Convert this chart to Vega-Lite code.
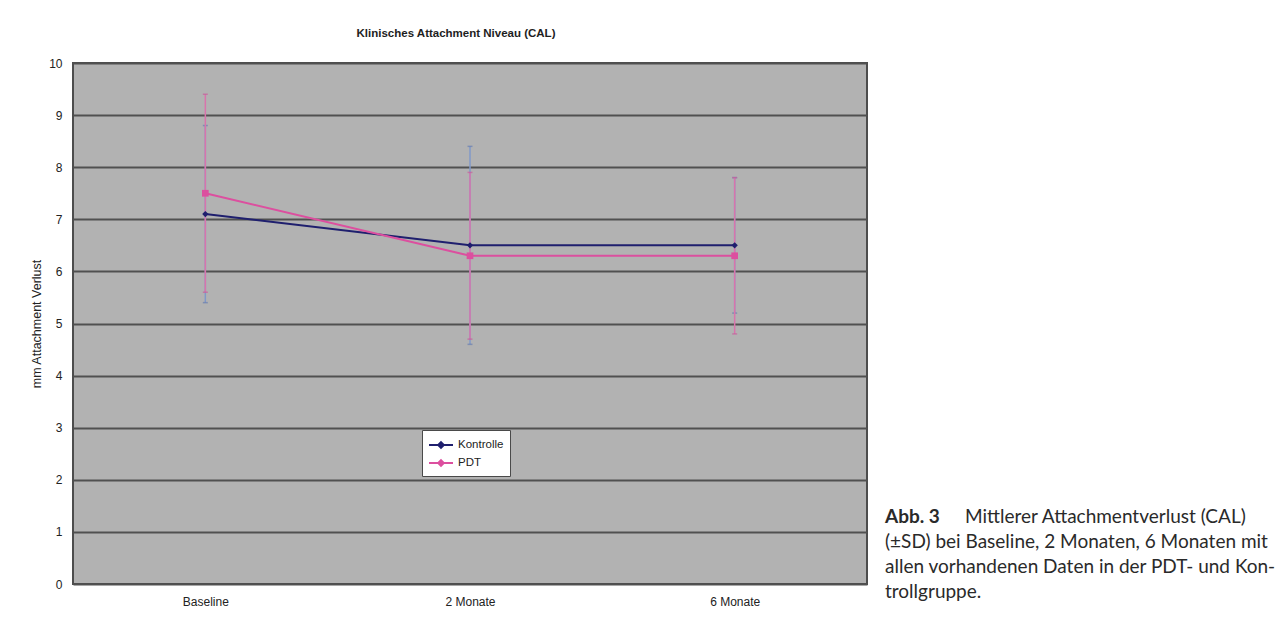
{
  "$schema": "https://vega.github.io/schema/vega-lite/v6.json",
  "background": "white",
  "padding": {"left": 29, "top": 26, "right": 0, "bottom": 0},
  "config": {
    "font": "Liberation Sans",
    "view": {"stroke": null},
    "concat": {"spacing": 17},
    "axisX": {"labelFont": "Liberation Sans", "labelFontSize": 12, "labelColor": "#222", "labelAngle": 0, "ticks": false, "domain": false, "grid": false, "labelPadding": 12, "title": null},
    "axisY": {"labelFont": "Liberation Sans", "labelFontSize": 12, "labelColor": "#222", "ticks": false, "domain": false, "grid": true, "gridColor": "#505050", "gridWidth": 2, "gridOpacity": 1, "labelPadding": 11, "titleFont": "Liberation Sans", "titleFontSize": 12.5, "titleFontWeight": "normal", "titleColor": "#222", "titlePadding": 5, "values": [0,1,2,3,4,5,6,7,8,9,10]}
  },
  "hconcat": [
    {
      "width": 794,
      "height": 521,
      "title": {"text": "Klinisches Attachment Niveau (CAL)", "font": "Liberation Sans", "fontSize": 11.5, "fontWeight": "bold", "color": "#1e1e1e", "anchor": "middle", "dx": -14, "offset": 18},
      "view": {"fill": "#b2b2b2", "stroke": "#4d4d4d", "strokeWidth": 2},
      "data": {"values": [
        {"Zeitpunkt": "Baseline", "Gruppe": "Kontrolle", "MW": 7.1, "lo": 5.4, "hi": 8.8},
        {"Zeitpunkt": "2 Monate", "Gruppe": "Kontrolle", "MW": 6.5, "lo": 4.6, "hi": 8.4},
        {"Zeitpunkt": "6 Monate", "Gruppe": "Kontrolle", "MW": 6.5, "lo": 5.2, "hi": 7.8},
        {"Zeitpunkt": "Baseline", "Gruppe": "PDT", "MW": 7.5, "lo": 5.6, "hi": 9.4},
        {"Zeitpunkt": "2 Monate", "Gruppe": "PDT", "MW": 6.3, "lo": 4.7, "hi": 7.9},
        {"Zeitpunkt": "6 Monate", "Gruppe": "PDT", "MW": 6.3, "lo": 4.8, "hi": 7.8}
      ]},
      "encoding": {
        "x": {"field": "Zeitpunkt", "type": "ordinal", "sort": ["Baseline", "2 Monate", "6 Monate"], "scale": {"type": "point", "padding": 0.5}}
      },
      "layer": [
        {
          "transform": [{"filter": "datum.Gruppe === 'Kontrolle'"}],
          "layer": [
            {
              "mark": {"type": "rule", "strokeWidth": 1.5, "color": "#8098c8"},
              "encoding": {
                "y": {"field": "lo", "type": "quantitative", "title": "mm Attachment Verlust", "scale": {"domain": [0, 10], "nice": false}},
                "y2": {"field": "hi"}
              }
            },
            {
              "mark": {"type": "tick", "size": 5, "thickness": 1.5, "orient": "horizontal", "color": "#6a7fb0"},
              "encoding": {"y": {"field": "lo", "type": "quantitative", "title": "mm Attachment Verlust"}}
            },
            {
              "mark": {"type": "tick", "size": 5, "thickness": 1.5, "orient": "horizontal", "color": "#6a7fb0"},
              "encoding": {"y": {"field": "hi", "type": "quantitative", "title": "mm Attachment Verlust"}}
            }
          ]
        },
        {
          "transform": [{"filter": "datum.Gruppe === 'PDT'"}],
          "layer": [
            {
              "mark": {"type": "rule", "strokeWidth": 1.5, "color": "#d874ac"},
              "encoding": {
                "y": {"field": "lo", "type": "quantitative", "title": "mm Attachment Verlust"},
                "y2": {"field": "hi"}
              }
            },
            {
              "mark": {"type": "tick", "size": 5, "thickness": 1.5, "orient": "horizontal", "color": "#c8609c"},
              "encoding": {"y": {"field": "lo", "type": "quantitative", "title": "mm Attachment Verlust"}}
            },
            {
              "mark": {"type": "tick", "size": 5, "thickness": 1.5, "orient": "horizontal", "color": "#c8609c"},
              "encoding": {"y": {"field": "hi", "type": "quantitative", "title": "mm Attachment Verlust"}}
            }
          ]
        },
        {
          "mark": {"type": "line", "strokeWidth": 2},
          "encoding": {
            "y": {"field": "MW", "type": "quantitative", "title": "mm Attachment Verlust"},
            "color": {"field": "Gruppe", "type": "nominal", "scale": {"domain": ["Kontrolle", "PDT"], "range": ["#1f1f6e", "#dc4f9f"]},
              "legend": {"title": null, "orient": "none", "legendX": 349, "legendY": 367, "zindex": 5, "direction": "vertical", "fillColor": "white", "strokeColor": "#4a4a4a", "padding": 6, "symbolType": "M-1,0H2M0.5,-0.35L0.85,0L0.5,0.35L0.15,0Z", "symbolSize": 256, "symbolStrokeWidth": 2, "labelFont": "Liberation Sans", "labelFontSize": 11.5, "labelColor": "#222", "labelOffset": 12, "rowPadding": 2}}
          }
        },
        {
          "transform": [{"filter": "datum.Gruppe === 'Kontrolle'"}],
          "mark": {"type": "point", "filled": true, "opacity": 1, "size": 40, "shape": "diamond", "color": "#1f1f6e"},
          "encoding": {
            "y": {"field": "MW", "type": "quantitative", "title": "mm Attachment Verlust"}
          }
        },
        {
          "transform": [{"filter": "datum.Gruppe === 'PDT'"}],
          "mark": {"type": "point", "filled": true, "opacity": 1, "size": 45, "shape": "square", "color": "#dc4f9f"},
          "encoding": {
            "y": {"field": "MW", "type": "quantitative", "title": "mm Attachment Verlust"}
          }
        }
      ]
    },
    {
      "width": 382,
      "height": 521,
      "data": {"values": [
        {"line": 1, "part": "bold", "text": "Abb. 3"},
        {"line": 1, "part": "lead", "text": "Mittlerer Attachmentverlust (CAL)"},
        {"line": 2, "part": "body", "text": "(±SD) bei Baseline, 2 Monaten, 6 Monaten mit"},
        {"line": 3, "part": "body", "text": "allen vorhandenen Daten in der PDT- und Kon-"},
        {"line": 4, "part": "body", "text": "trollgruppe."}
      ]},
      "encoding": {
        "y": {"field": "line", "type": "quantitative", "scale": {"domain": [-17.15, 3.69], "reverse": true, "nice": false, "zero": false}, "axis": null},
        "text": {"field": "text", "type": "nominal"}
      },
      "layer": [
        {
          "transform": [{"filter": "datum.part === 'bold'"}],
          "mark": {"type": "text", "align": "left", "baseline": "middle", "font": "Lato", "fontSize": 19, "fontWeight": "bold", "color": "#2a2a2a", "x": 0}
        },
        {
          "transform": [{"filter": "datum.part === 'lead'"}],
          "mark": {"type": "text", "align": "left", "baseline": "middle", "font": "Lato", "fontSize": 19, "color": "#2a2a2a", "x": 0, "dx": 80}
        },
        {
          "transform": [{"filter": "datum.part === 'body'"}],
          "mark": {"type": "text", "align": "left", "baseline": "middle", "font": "Lato", "fontSize": 19, "color": "#2a2a2a", "x": 0}
        }
      ]
    }
  ]
}
